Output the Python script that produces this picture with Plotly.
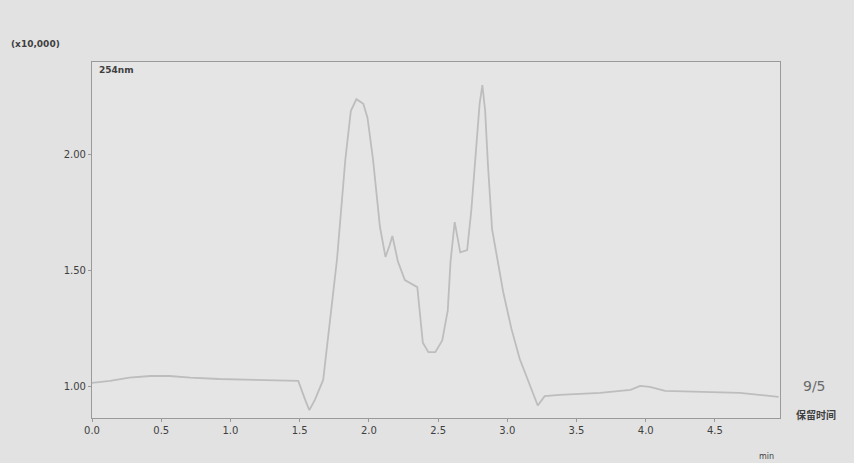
import plotly.graph_objects as go

# Retention time (min) and detector signal (x10,000)
time_min = [0.00, 0.13, 0.27, 0.42, 0.56, 0.71, 0.92, 1.14, 1.36, 1.49, 1.54, 1.57, 1.61,
            1.67, 1.72, 1.77, 1.83, 1.87, 1.91, 1.96, 1.99, 2.03, 2.08, 2.12, 2.15, 2.17,
            2.21, 2.26, 2.35, 2.39, 2.43, 2.48, 2.53, 2.57, 2.59, 2.62, 2.66, 2.71, 2.74,
            2.77, 2.80, 2.82, 2.84, 2.86, 2.89, 2.97, 3.03, 3.09, 3.16, 3.22, 3.27, 3.38,
            3.67, 3.89, 3.96, 4.03, 4.14, 4.39, 4.68, 4.96]
signal = [1.017, 1.026, 1.040, 1.047, 1.047, 1.040, 1.034, 1.030, 1.026, 1.026, 0.944, 0.900, 0.944,
          1.030, 1.290, 1.550, 1.980, 2.190, 2.240, 2.220, 2.160, 1.980, 1.690, 1.560, 1.610, 1.650,
          1.540, 1.460, 1.430, 1.190, 1.150, 1.150, 1.200, 1.330, 1.540, 1.710, 1.580, 1.590, 1.760,
          1.980, 2.220, 2.300, 2.190, 1.960, 1.680, 1.410, 1.250, 1.120, 1.010, 0.920, 0.960, 0.966,
          0.974, 0.987, 1.004, 1.000, 0.983, 0.978, 0.974, 0.957]

x_ticks = [0.0, 0.5, 1.0, 1.5, 2.0, 2.5, 3.0, 3.5, 4.0, 4.5]
x_tick_labels = ["0.0", "0.5", "1.0", "1.5", "2.0", "2.5", "3.0", "3.5", "4.0", "4.5"]
y_ticks = [1.00, 1.50, 2.00]
y_tick_labels = ["1.00", "1.50", "2.00"]

fig = go.Figure()
fig.add_trace(go.Scatter(x=time_min, y=signal, mode="lines",
                         line=dict(color="#bdbdbd", width=1.8), showlegend=False))

axis_font = dict(family="DejaVu Sans", size=10, color="#3f3f3f")
fig.update_layout(
    width=854, height=463,
    margin=dict(l=92, r=74, t=62, b=45),
    paper_bgcolor="#e2e2e2",
    plot_bgcolor="#e5e5e5",
    xaxis=dict(range=[0, 4.97], tickvals=x_ticks, ticktext=x_tick_labels,
               showgrid=False, zeroline=False, showline=True, linecolor="#9a9a9a",
               linewidth=1.2, mirror=True, ticks="outside", ticklen=3,
               tickcolor="#9a9a9a", tickfont=axis_font),
    yaxis=dict(range=[0.866, 2.40], tickvals=y_ticks, ticktext=y_tick_labels,
               showgrid=False, zeroline=False, showline=True, linecolor="#9a9a9a",
               linewidth=1.2, mirror=True, ticks="outside", ticklen=3,
               tickcolor="#9a9a9a", tickfont=axis_font),
    annotations=[
        dict(text="<b>(x10,000)</b>", xref="paper", yref="paper", x=-0.12, y=1.03,
             xanchor="left", yanchor="bottom", showarrow=False,
             font=dict(family="DejaVu Sans", size=9, color="#3f3f3f")),
        dict(text="<b>254nm</b>", xref="paper", yref="paper", x=0.007, y=0.998,
             xanchor="left", yanchor="top", showarrow=False,
             font=dict(family="DejaVu Sans", size=9, color="#3f3f3f")),
        dict(text="min", xref="paper", yref="paper", x=0.98, y=-0.09,
             xanchor="center", yanchor="top", showarrow=False,
             font=dict(family="DejaVu Sans", size=8, color="#3f3f3f")),
        dict(text="9/5", xref="paper", yref="paper", x=1.03, y=0.09,
             xanchor="left", yanchor="middle", showarrow=False,
             font=dict(family="DejaVu Sans", size=14, color="#6a6a6a")),
        dict(text="<b>保留时间</b>", xref="paper", yref="paper", x=1.02, y=0.01,
             xanchor="left", yanchor="middle", showarrow=False,
             font=dict(family="Noto Sans CJK SC", size=10, color="#3f3f3f")),
    ],
)

fig.write_html("out.html", config={"displayModeBar": False},
               post_script="document.body.style.margin='0';document.body.style.background='#e2e2e2';document.body.style.overflow='hidden';")
